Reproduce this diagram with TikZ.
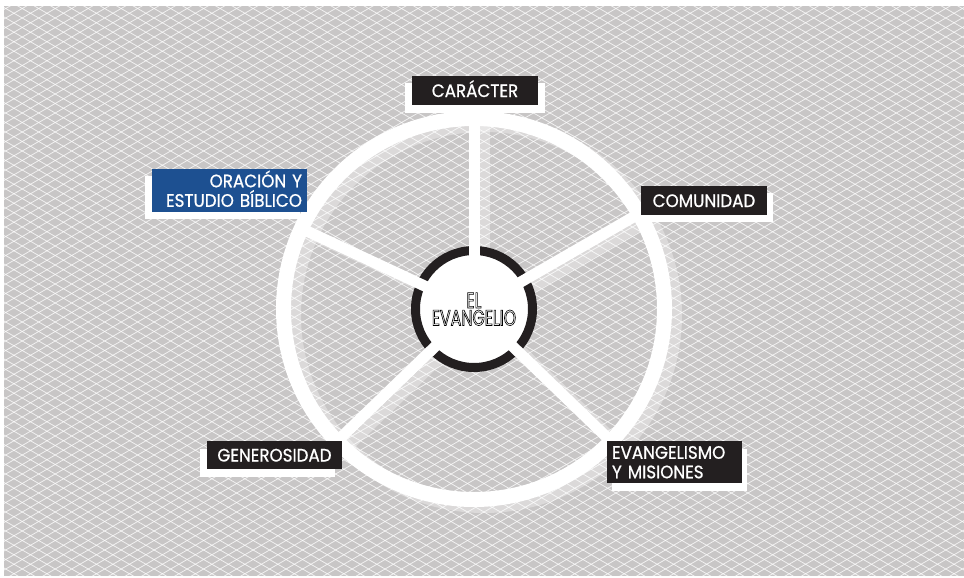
\documentclass[tikz,border=0pt]{standalone}
\usepackage{fontspec}
\setmainfont{Poppins}[FakeStretch=0.93,FakeBold=0.8]
\newfontfamily\hubfont{Poppins}[FakeStretch=0.72]
\usetikzlibrary{shadows}

\definecolor{meshgray}{RGB}{200,198,198}
\definecolor{tagblack}{RGB}{35,31,32}
\definecolor{tagblue}{RGB}{29,80,145}

\newcommand{\hollow}[1]{\special{pdf:literal direct 1 Tr 0.6 w}#1\special{pdf:literal direct 0 Tr}}

\tikzset{
  mesh/.style={white,opacity=0.75,line width=0.8pt},
  rim/.style={white,line width=15pt},
  spoke/.style={white,line width=11pt},
  tag/.style={fill=tagblack,text=white,inner xsep=10pt,inner ysep=0pt,
    font=\fontsize{18}{19.5}\selectfont,text height=13pt,text depth=0pt},
  tagshadow/.style={drop shadow={fill=white,opacity=1,#1}},
}

\begin{document}
\begin{tikzpicture}[x=1pt,y=-1pt]
  \path[use as bounding box] (0,0) rectangle (964,578);
  \fill[meshgray] (4,6) rectangle (964,576);

  \begin{scope}
    \clip (4,6) rectangle (964,576);
    \foreach \k in {0,9.5,...,1140} {
      \draw[mesh] (4,\k-553) -- ++(960,553);
      \draw[mesh] (4,\k) -- ++(960,-553);
    }
  \end{scope}

  \coordinate (hub) at (474,309);
  \coordinate (hubshade) at (484,315);

  \begin{scope}[opacity=0.35]
    \draw[rim] (hubshade) circle[radius=190.5];
    \foreach \a in {-90,-30,44,136,-155}
      \draw[spoke] (hubshade) ++(\a:50) -- ++(\a:140);
  \end{scope}

  \draw[rim] (hub) circle[radius=190.5];
  \node[circle,fill=white,draw=tagblack,line width=9pt,minimum size=117pt] (gospel) at (hub) {};
  \foreach \a in {-90,-30,44,136,-155}
    \draw[spoke] (hub) ++(\a:50) -- ++(\a:140);
  \node[font=\hubfont\fontsize{22}{17.5}\selectfont,text width=120pt,align=center,
        text height=15.5pt,text depth=17.5pt,inner sep=0pt] (gospeltext) at (hub)
        {\hollow{EL}\\\hollow{EVANGELIO}};

  \fill[white] (405,83) rectangle (545,113);
  \node[tag,minimum width=126pt,minimum height=29pt]
        (caracter) at (475,90.5) {CARÁCTER};
  \node[tag,minimum width=126pt,minimum height=29pt,
        tagshadow={shadow xshift=6pt,shadow yshift=-7pt}]
        (comunidad) at (704,200.5) {COMUNIDAD};
  \node[tag,minimum width=135pt,minimum height=28pt,
        tagshadow={shadow xshift=-7pt,shadow yshift=-8pt}]
        (generosidad) at (274.5,455) {GENEROSIDAD};
  \node[tag,fill=tagblue,inner xsep=5pt,text width=145pt,align=right,minimum height=43pt,
        text depth=19.5pt,tagshadow={shadow xshift=-7pt,shadow yshift=-7pt}]
        (oracion) at (229.5,190.5) {ORACIÓN Y\\ESTUDIO BÍBLICO};
  \node[tag,inner xsep=5pt,text width=125pt,align=left,minimum height=42pt,
        text depth=19.5pt,tagshadow={shadow xshift=5pt,shadow yshift=-8pt}]
        (misiones) at (674.5,462) {EVANGELISMO\\Y MISIONES};
\end{tikzpicture}
\end{document}
